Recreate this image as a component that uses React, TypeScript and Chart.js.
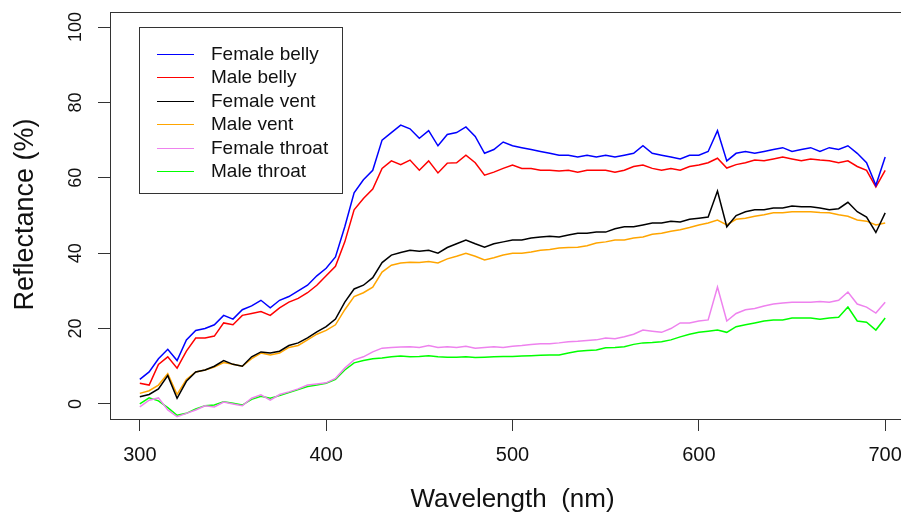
import React, { useEffect, useRef } from "react";
import { Chart, registerables } from "chart.js";

Chart.register(...registerables);

const wavelengths = [
  300, 305, 310, 315, 320, 325, 330, 335, 340, 345, 350, 355, 360, 365, 370, 375, 380, 385, 390, 395,
  400, 405, 410, 415, 420, 425, 430, 435, 440, 445, 450, 455, 460, 465, 470, 475, 480, 485, 490, 495,
  500, 505, 510, 515, 520, 525, 530, 535, 540, 545, 550, 555, 560, 565, 570, 575, 580, 585, 590, 595,
  600, 605, 610, 615, 620, 625, 630, 635, 640, 645, 650, 655, 660, 665, 670, 675, 680, 685, 690, 695,
  700,
];

const femaleBelly = [
  6.5, 8.5, 12, 14.5, 11.5, 17, 19.5, 20, 21, 23.5, 22.5, 25, 26, 27.5, 25.5, 27.5, 28.5, 30, 31.5, 34,
  36, 39, 47, 56, 59.5, 62, 70, 72, 74, 73, 70.5, 72.5, 68.5, 71.5, 72, 73.5, 71, 66.5, 67.5, 69.5,
  68.5, 68, 67.5, 67, 66.5, 66, 66, 65.5, 66, 65.5, 66, 65.5, 66, 66.5, 68.5, 66.5, 66, 65.5, 65, 66,
  66, 67, 72.5, 64.5, 66.5, 67, 66.5, 67, 67.5, 68, 67, 67.5, 68, 67, 68, 67.5, 68.5, 66.5, 64, 58,
  65.5,
];

const maleBelly = [
  5.5, 5, 10.5, 12.5, 9.5, 14, 17.5, 17.5, 18, 21.5, 21, 23.5, 24, 24.5, 23.5, 25.5, 27, 28, 29.5, 31.5,
  34, 36.5, 43, 51.5, 54.5, 57, 62.5, 64.5, 63.5, 64.7, 62, 64.5, 61.3, 63.9, 64, 66, 64, 60.7, 61.5, 62.5,
  63.4, 62.5, 62.5, 62, 62, 61.8, 62, 61.5, 62, 62, 62, 61.5, 62, 63, 63.4, 62.5, 62, 62.5, 62, 63,
  63.4, 64, 65.2, 62.6, 63.5, 64, 64.7, 64.5, 65, 65.5, 65, 64.5, 65, 64.7, 64.5, 64, 64.5, 63, 62, 57.6,
  62,
];

const femaleVent = [
  1.9, 2.5, 4, 7.5, 1.5, 6, 8.5, 9, 10, 11.5, 10.5, 10, 12.5, 13.8, 13.5, 14, 15.5, 16.2, 17.5, 19.1,
  20.5, 22.5, 27, 30.5, 31.5, 33.5, 37.5, 39.5, 40.2, 40.8, 40.5, 40.8, 40, 41.5, 42.5, 43.5, 42.5, 41.6, 42.5, 43,
  43.5, 43.5, 44, 44.3, 44.5, 44.3, 44.8, 45.3, 45.3, 45.6, 45.6, 46.5, 47, 47, 47.5, 48, 48, 48.5, 48.3, 49,
  49.3, 49.6, 56.5, 47, 50, 51, 51.5, 51.5, 52, 52, 52.5, 52.3, 52.3, 52, 51.5, 51.8, 53.5, 51, 49.6, 45.5,
  50.7,
];

const maleVent = [
  2.8, 3.5, 5, 8, 2.5, 6.5, 8.5, 9, 9.8, 11, 10.5, 10, 12, 13.5, 13, 13.5, 15, 15.5, 17, 18.5,
  19.5, 21, 25, 28.5, 29.5, 31, 35, 36.8, 37.4, 37.6, 37.5, 37.8, 37.4, 38.5, 39.2, 40, 39.2, 38.2, 38.8, 39.5,
  40, 40, 40.3, 40.8, 41, 41.4, 41.5, 41.6, 42, 42.7, 43, 43.5, 43.5, 44, 44.3, 45, 45.3, 45.8, 46.2, 46.8,
  47.5, 48, 48.8, 47.5, 49, 49.3, 49.8, 50.2, 50.7, 50.7, 51, 51, 51, 50.8, 50.7, 50.2, 49.8, 48.8, 48.5, 47.5,
  48,
];

const femaleThroat = [
  -0.8, 1, 1.6, -1.6, -3.4, -2.5, -1.6, -0.5, -0.8, 0.5, 0, -0.5, 1.5, 2.4, 1, 2.5, 3.2, 4, 5, 5.3,
  5.6, 6.8, 9.5, 11.7, 12.5, 13.8, 14.8, 15, 15.1, 15.2, 15, 15.5, 15, 15.2, 15, 15.3, 14.8, 15, 15.2, 15,
  15.3, 15.5, 15.8, 16, 16, 16.2, 16.5, 16.6, 16.8, 17, 17.5, 17.3, 17.8, 18.5, 19.6, 19.3, 19, 20, 21.5, 21.5,
  22, 22.3, 31, 22, 24, 25, 25.3, 26, 26.5, 26.8, 27, 27, 27, 27.2, 27, 27.5, 29.7, 26.5, 25.7, 24.1,
  27,
];

const maleThroat = [
  0, 1.6, 0.8, -1, -3, -2.5, -1.3, -0.5, -0.3, 0.6, 0.2, -0.3, 1.2, 2, 1.5, 2.2, 3, 3.8, 4.6, 5,
  5.5, 6.5, 9, 10.9, 11.5, 12, 12.2, 12.5, 12.7, 12.5, 12.6, 12.8, 12.5, 12.4, 12.4, 12.5, 12.3, 12.4, 12.5, 12.6,
  12.6, 12.7, 12.8, 12.9, 13, 13, 13.5, 14, 14.2, 14.3, 14.9, 15, 15.2, 15.8, 16.2, 16.3, 16.5, 17, 17.8, 18.5,
  19, 19.3, 19.6, 19, 20.5, 21, 21.5, 22, 22.3, 22.3, 22.8, 22.8, 22.8, 22.5, 22.8, 23, 25.7, 22, 21.7, 19.6,
  22.8,
];

const seriesLabels = ["Female belly", "Male belly", "Female vent", "Male vent", "Female throat", "Male throat"];
const seriesColors = ["#0000FF", "#FF0000", "#000000", "#FFA500", "#EE82EE", "#00FF00"];
const seriesValues = [femaleBelly, maleBelly, femaleVent, maleVent, femaleThroat, maleThroat];

const xTicks = [300, 400, 500, 600, 700];
const yTicks = [0, 20, 40, 60, 80, 100];
const xTitle = "Wavelength  (nm)";
const yTitle = "Reflectance (%)";

const FONT = '"Liberation Sans", Arial, Helvetica, sans-serif';

const rPlot = {
  id: "rPlot",
  afterDraw(chart: any) {
    const { ctx, chartArea: a, scales } = chart;
    ctx.save();
    // box
    ctx.strokeStyle = "#333";
    ctx.lineWidth = 1;
    ctx.strokeRect(Math.round(a.left) + 0.5, Math.round(a.top) + 0.5, Math.round(a.right - a.left), Math.round(a.bottom - a.top));

    ctx.fillStyle = "#111";
    // x tick labels
    ctx.font = `20px ${FONT}`;
    ctx.textAlign = "center";
    ctx.textBaseline = "alphabetic";
    scales.x.ticks.forEach((t: any) => {
      ctx.fillText(String(t.value), scales.x.getPixelForValue(t.value), 461);
    });
    // y tick labels (rotated, reading upwards)
    ctx.font = `18px ${FONT}`;
    scales.y.ticks.forEach((t: any) => {
      const y = scales.y.getPixelForValue(t.value);
      ctx.save();
      ctx.translate(81, y);
      ctx.rotate(-Math.PI / 2);
      ctx.fillText(String(t.value), 0, 0);
      ctx.restore();
    });
    // axis titles
    ctx.font = `26px ${FONT}`;
    ctx.fillText(xTitle, (a.left + a.right) / 2, 507);
    ctx.save();
    ctx.translate(33, (a.top + a.bottom) / 2 - 1);
    ctx.rotate(-Math.PI / 2);
    ctx.font = `27px ${FONT}`;
    ctx.fillText(yTitle, 0, 0);
    ctx.restore();

    // legend
    ctx.strokeStyle = "#333";
    ctx.strokeRect(139.5, 27.5, 203, 166);
    ctx.font = `19px ${FONT}`;
    ctx.textAlign = "left";
    ctx.textBaseline = "middle";
    seriesLabels.forEach((label, i) => {
      const y = 53.5 + i * 23.5;
      ctx.strokeStyle = seriesColors[i];
      ctx.lineWidth = 1.2;
      ctx.beginPath();
      ctx.moveTo(157, Math.round(y) + 0.5);
      ctx.lineTo(194, Math.round(y) + 0.5);
      ctx.stroke();
      ctx.fillStyle = "#111";
      ctx.fillText(label, 211, y + 1);
    });
    ctx.restore();
  },
};

export default function App() {
  const ref = useRef<HTMLCanvasElement | null>(null);

  useEffect(() => {
    document.body.style.margin = "0";
    const canvas = ref.current;
    if (!canvas) return;
    const datasets = seriesLabels.map((label, i) => ({
      label,
      data: wavelengths.map((w, j) => ({ x: w, y: seriesValues[i][j] })),
      borderColor: seriesColors[i],
      backgroundColor: seriesColors[i],
      borderWidth: 1.5,
      pointRadius: 0,
      tension: 0,
      fill: false,
    }));
    const chart = new Chart(canvas, {
      type: "line",
      data: { datasets },
      options: {
        animation: false,
        responsive: false,
        devicePixelRatio: 1,
        layout: { padding: { top: 12, right: 25, left: 0, bottom: 0 } },
        plugins: { legend: { display: false }, tooltip: { enabled: false } },
        scales: {
          x: {
            type: "linear",
            min: 284,
            max: 716,
            afterBuildTicks: (s: any) => {
              s.ticks = xTicks.map((v) => ({ value: v }));
            },
            afterFit: (s: any) => {
              s.height = 96;
            },
            ticks: { display: false },
            border: { display: false },
            grid: { display: true, drawOnChartArea: false, drawTicks: true, tickLength: 12, color: "#333", lineWidth: 1 },
          },
          y: {
            type: "linear",
            min: -4,
            max: 104,
            afterBuildTicks: (s: any) => {
              s.ticks = yTicks.map((v) => ({ value: v }));
            },
            afterFit: (s: any) => {
              s.width = 110;
            },
            ticks: { display: false },
            border: { display: false },
            grid: { display: true, drawOnChartArea: false, drawTicks: true, tickLength: 12, color: "#333", lineWidth: 1 },
          },
        },
      },
      plugins: [rPlot],
    });
    return () => chart.destroy();
  }, []);

  return (
    <div style={{ width: 901, height: 515, overflow: "hidden", position: "relative", background: "#fff" }}>
      <canvas ref={ref} width={940} height={515} style={{ display: "block" }} />
    </div>
  );
}
